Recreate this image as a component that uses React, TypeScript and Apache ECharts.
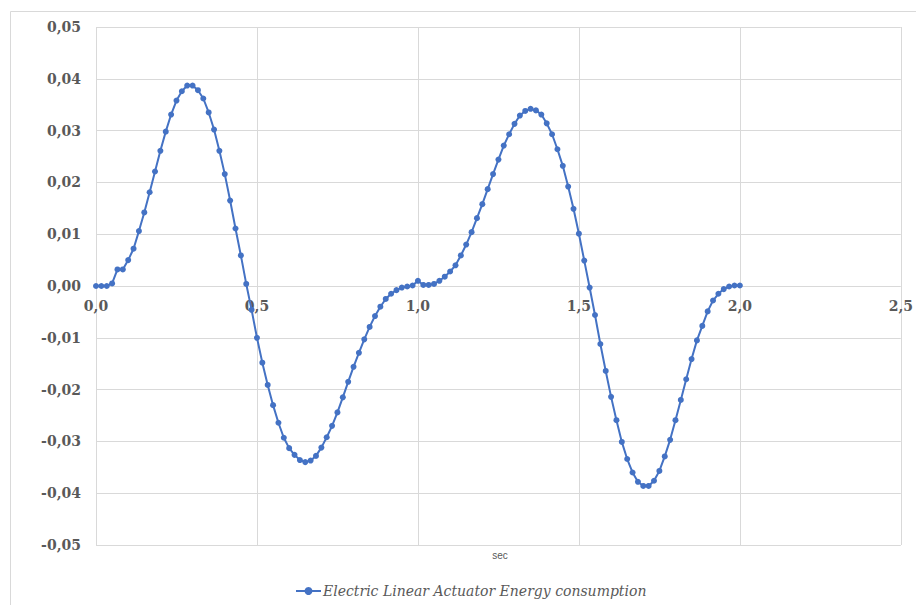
import React, { useEffect, useRef } from "react";
import * as echarts from "echarts";

// time step 1/60 s, 121 samples from 0 to 2.0 s
const STEP_COUNT = 120;
const times: number[] = Array.from({ length: STEP_COUNT + 1 }, (_, i) => i / 60);

const energy: number[] = [
  0, 0, 0, 0.0005, 0.0032, 0.0032, 0.005, 0.0072, 0.0106, 0.0142,
  0.0181, 0.0221, 0.0261, 0.0298, 0.0331, 0.0358, 0.0376, 0.0387, 0.0387, 0.0378,
  0.0362, 0.0335, 0.0302, 0.0261, 0.0216, 0.0165, 0.0111, 0.0059, 0.0004, -0.0046,
  -0.01, -0.0148, -0.0191, -0.023, -0.0264, -0.0293, -0.0313, -0.0326, -0.0336, -0.034,
  -0.0337, -0.0328, -0.0312, -0.0292, -0.027, -0.0244, -0.0215, -0.0185, -0.0156, -0.0129,
  -0.0103, -0.0079, -0.0058, -0.004, -0.0025, -0.0015, -0.0008, -0.0003, -0.0001, 0.0001,
  0.001, 0.0002, 0.0002, 0.0004, 0.001, 0.0018, 0.0028, 0.004, 0.0059, 0.008,
  0.0104, 0.0131, 0.0158, 0.0187, 0.0216, 0.0244, 0.0271, 0.0293, 0.0313, 0.0329,
  0.0338, 0.0342, 0.0339, 0.0331, 0.0314, 0.0293, 0.0264, 0.0232, 0.0192, 0.0149,
  0.0101, 0.0049, -0.0003, -0.0056, -0.0112, -0.0164, -0.0214, -0.0259, -0.0301, -0.0334,
  -0.036, -0.0378, -0.0386, -0.0386, -0.0376, -0.0357, -0.0329, -0.0297, -0.0259, -0.022,
  -0.018, -0.0141, -0.0105, -0.0077, -0.0049, -0.0028, -0.0015, -0.0006, -0.0001, 0.0001,
  0.0001,
];

const seriesName = "Electric Linear Actuator Energy consumption";
const xAxisTitle = "sec";
const xMin = 0;
const xMax = 2.5;
const xInterval = 0.5;
const yMin = -0.05;
const yMax = 0.05;
const yInterval = 0.01;

const SERIF = "DejaVu Serif";

export default function App() {
  const ref = useRef<HTMLDivElement>(null);

  useEffect(() => {
    document.body.style.margin = "0";
    if (!ref.current) return;
    const chart = echarts.init(ref.current, undefined, { renderer: "svg" });
    const labelFont = {
      fontFamily: SERIF,
      fontWeight: "bold" as const,
      fontSize: 14,
      color: "#595959",
    };
    const gridBottom = 60;
    const chartHeight = 605;
    chart.setOption({
      animation: false,
      backgroundColor: "#ffffff",
      textStyle: { fontFamily: SERIF },
      grid: { left: 96, right: 13, top: 27, bottom: gridBottom, containLabel: false },
      graphic: [
        {
          type: "rect",
          shape: { x: 10.5, y: 11.5, width: 940, height: 640 },
          style: { fill: "none", stroke: "#d9d9d9", lineWidth: 1 },
          silent: true,
          z: -10,
        },
        {
          type: "text",
          x: 500,
          y: 555,
          style: {
            text: xAxisTitle,
            fontFamily: "sans-serif",
            fontSize: 10,
            fill: "#595959",
            textAlign: "center",
            textVerticalAlign: "middle",
          },
        },
      ],
      legend: {
        left: 295,
        top: 584,
        padding: 0,
        itemWidth: 25,
        itemHeight: 10,
        itemGap: 10,
        data: [seriesName],
        textStyle: {
          fontFamily: SERIF,
          fontStyle: "italic",
          fontSize: 14,
          color: "#595959",
          padding: [0, 0, 0, -3],
        },
      },
      xAxis: {
        type: "value",
        min: xMin,
        max: xMax,
        interval: xInterval,
        offset: 0,
        axisLine: { show: false, onZero: false },
        axisTick: { show: false },
        splitLine: { show: true, lineStyle: { color: "#d9d9d9", width: 1 } },
        axisLabel: {
          ...labelFont,
          margin: 13,
          formatter: (v: number) => v.toFixed(1).replace(".", ","),
        },
      },
      yAxis: {
        type: "value",
        min: yMin,
        max: yMax,
        interval: yInterval,
        axisLine: { show: false, onZero: false },
        axisTick: { show: false },
        splitLine: { show: true, lineStyle: { color: "#d9d9d9", width: 1 } },
        axisLabel: {
          ...labelFont,
          margin: 15,
          formatter: (v: number) => {
            const s = Math.abs(v) < 1e-9 ? "0.00" : v.toFixed(2);
            return s.replace(".", ",");
          },
        },
      },
      series: [
        {
          name: seriesName,
          type: "line",
          data: times.map((t, i) => [t, energy[i]]),
          symbol: "circle",
          symbolSize: 6,
          showSymbol: true,
          lineStyle: { color: "#4472C4", width: 2 },
          itemStyle: { color: "#4472C4" },
        },
      ],
    });
    // move the x axis labels up to the zero line using the library's own scale
    const zeroY = chart.convertToPixel({ yAxisIndex: 0 }, 0) as number;
    const bottomY = chartHeight - gridBottom;
    if (typeof zeroY === "number" && isFinite(zeroY)) {
      chart.setOption({ xAxis: { offset: -(bottomY - zeroY) } });
    }
    return () => chart.dispose();
  }, []);

  return <div ref={ref} style={{ width: 916, height: 605 }} />;
}
